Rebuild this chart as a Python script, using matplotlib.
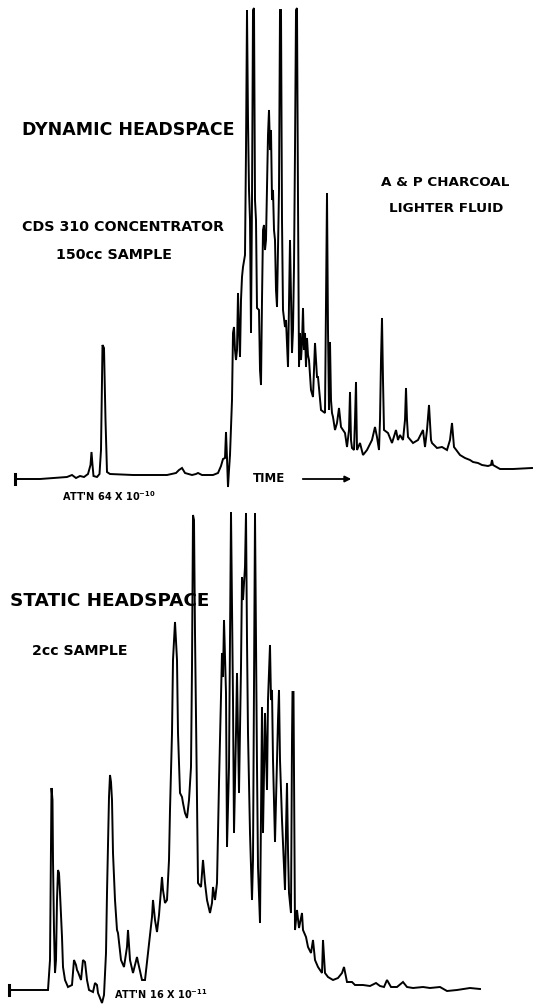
import matplotlib
matplotlib.use("Agg")
import matplotlib.pyplot as plt

# ---------------- data (time in chart units, response in chart units) ----
dyn_time = [15, 40, 67, 72, 76, 80, 84, 88, 90.5, 91.5, 92.5, 93.5, 97, 99.5, 101, 102.5, 104, 105.5,
            107, 110, 133, 167, 176, 179, 182, 185, 192, 196, 198, 202, 213, 218, 221, 223, 225, 226,
            227, 228, 229, 230, 232, 233, 234, 235, 236, 237, 238, 239, 240, 241, 242, 243, 245, 246,
            247, 248, 249, 250, 251, 252, 253, 254, 255, 256, 257, 259, 260, 261, 262, 263, 264, 265,
            266, 267, 268, 269, 270, 271, 272, 273, 274, 275, 276, 277, 278, 279, 280, 281, 282, 283,
            285, 286, 288, 290, 292, 293, 294, 295, 296, 297, 298, 299, 300, 301, 302, 303, 304, 305,
            306, 307, 308, 309, 311, 313, 315, 317, 318, 321, 325, 326, 327, 328, 329, 330, 331, 332,
            333, 335, 337, 339, 341, 345, 347, 349, 350, 351, 352, 354, 355, 356, 357, 360, 363, 367,
            372, 375, 377, 379, 380, 381, 382, 383, 384, 388, 392, 396, 398, 400, 403, 405, 406, 407,
            408, 413, 418, 423, 425, 427, 429, 431, 432, 437, 442, 447, 450, 452, 454, 460, 465, 470,
            473, 478, 482, 488, 491, 492, 493, 500, 513, 532]
dyn_resp = [-1, -1, 1, 3, 0, 2, 1, 4, 13, 26, 13, 2, 1, 4, 28, 133, 130, 58,
            6, 4, 3, 3, 5, 8, 10, 5, 3, 4, 5, 3, 3, 5, 12, 19, 20, 46,
            20, -9, 8, 23, 78, 145, 151, 128, 118, 128, 185, 148, 121, 178, 201, 211, 223, 328,
            468, 358, 288, 258, 145, 278, 468, 470, 278, 258, 170, 168, 108, 93, 178, 248, 253, 228,
            238, 288, 343, 368, 328, 348, 278, 288, 248, 238, 188, 171, 228, 288, 468, 468, 258, 168,
            151, 158, 111, 238, 125, 148, 211, 328, 468, 470, 278, 111, 145, 118, 135, 170, 128, 145,
            111, 140, 123, 118, 88, 81, 135, 101, 101, 68, 65, 178, 285, 148, 68, 136, 78, 65,
            61, 48, 55, 70, 51, 45, 31, 48, 86, 38, 30, 28, 58, 96, 28, 35, 23, 28,
            38, 51, 41, 28, 58, 118, 160, 98, 48, 45, 35, 48, 38, 43, 38, 58, 90, 58,
            41, 35, 38, 48, 31, 48, 73, 38, 35, 30, 31, 28, 38, 55, 31, 23, 20, 18,
            16, 15, 13, 12, 13, 18, 13, 9, 9, 10]

stat_time = [9, 30, 48, 50, 51, 51.5, 52.5, 53, 54, 55, 56, 57, 58, 59, 60, 62, 63, 65, 68, 72, 74,
             76, 77, 78, 81, 83, 85, 87, 89, 93, 95, 97, 98, 102, 104, 106, 107, 109, 110, 111, 112,
             113, 115, 117, 118, 121, 124, 127, 128, 130, 133, 137, 138, 142, 145, 148, 152, 153,
             155, 157, 159, 162, 163, 165, 167, 168, 169, 170, 172, 173, 175, 176, 177, 178, 180,
             182, 183, 185, 187, 189, 191, 192, 193, 194, 195, 197, 198, 201, 203, 205, 207, 210,
             212, 213, 215, 217, 219, 222, 223, 224, 226, 227, 229, 231, 233, 234, 236, 237, 239,
             241, 242, 243, 245, 246, 247, 248, 250, 252, 253, 255, 257, 258, 260, 262, 263, 265,
             267, 268, 270, 271, 272, 273, 275, 276, 277, 278, 279, 280, 282, 283, 285, 286, 287,
             288, 289, 291, 292, 292.5, 293.5, 295, 297, 299, 302, 303, 306, 308, 311, 313, 315,
             318, 322, 323, 325, 328, 333, 338, 342, 344, 347, 352, 355, 363, 370, 376, 380, 384,
             387, 391, 397, 403, 407, 413, 423, 430, 440, 447, 457, 470, 480]
stat_resp = [0, 0, 0, 30, 140, 202, 190, 130, 60, 17, 30, 90, 120, 117, 97, 53, 23, 10, 3, 5, 30,
             25, 20, 18, 10, 30, 28, 10, 0, -2, 7, 5, -3, -13, -5, 37, 97, 193, 215, 208, 190,
             137, 90, 60, 57, 30, 23, 43, 60, 30, 17, 33, 28, 10, 10, 37, 73, 90,
             70, 58, 75, 113, 100, 87, 90, 110, 130, 180, 257, 330, 368, 350, 330, 257, 197,
             193, 187, 177, 172, 190, 223, 323, 475, 470, 357, 190, 107, 103, 130, 107, 90, 77,
             87, 103, 90, 107, 207, 337, 313, 370, 297, 143, 223, 478, 290, 157, 257, 317, 197,
             323, 413, 390, 423, 477, 350, 257, 157, 90, 130, 477, 223, 123, 67, 283, 157, 277,
             200, 290, 345, 290, 300, 230, 148, 190, 230, 270, 300, 230, 170, 147, 100, 160, 207,
             140, 97, 77, 250, 298, 298, 60, 80, 62, 77, 60, 53, 43, 37, 50, 30,
             23, 17, 50, 17, 13, 10, 12, 17, 23, 8, 8, 5, 5, 4, 7, 4, 3,
             10, 3, 3, 8, 3, 2, 3, 2, 3, -1, 0, 2, 1]

# start-of-run pen marks
dyn_mark_time = [15, 15]
dyn_mark_resp = [4, -6]
stat_mark_time = [9, 9]
stat_mark_resp = [5, -5]

W, H = 533, 1006
fig = plt.figure(figsize=(W / 100, H / 100), dpi=100)
fig.patch.set_facecolor("white")

ax_top = fig.add_axes([0, 1 - 500 / H, 1, 500 / H])
ax_bot = fig.add_axes([0, 0, 1, 506 / H])

lw = 1.4
ax_top.plot(dyn_time, dyn_resp, color="black", lw=lw, solid_joinstyle="miter")
ax_top.plot(dyn_mark_time, dyn_mark_resp, color="black", lw=2.2)
ax_top.set_xlim(0, W)
ax_top.set_ylim(-22, 478)
ax_top.axis("off")

ax_bot.plot(stat_time, stat_resp, color="black", lw=lw, solid_joinstyle="miter")
ax_bot.plot(stat_mark_time, stat_mark_resp, color="black", lw=2.2)
ax_bot.set_xlim(0, W)
ax_bot.set_ylim(-16, 490)
ax_bot.axis("off")


def fp(x, y):
    return x / W, 1 - y / H


font = dict(family="DejaVu Sans", weight="bold", color="black")

fig.text(*fp(22, 130), "DYNAMIC HEADSPACE", fontsize=12.5, va="center", ha="left", **font)
fig.text(*fp(22, 227), "CDS 310 CONCENTRATOR", fontsize=10.3, va="center", ha="left", **font)
fig.text(*fp(56, 255), "150cc SAMPLE", fontsize=10.3, va="center", ha="left", **font)
fig.text(*fp(381, 182), "A & P CHARCOAL", fontsize=9.7, va="center", ha="left", **font)
fig.text(*fp(389, 208), "LIGHTER FLUID", fontsize=9.7, va="center", ha="left", **font)
fig.text(*fp(62, 496), r"ATT'N 64 X 10$^{\mathbf{-10}}$", fontsize=7, va="center", ha="left", **font)
fig.text(*fp(253, 479), "TIME", fontsize=8.5, va="center", ha="left", **font)
ax_top.annotate("", xy=fp(354, 479), xytext=fp(300, 479), xycoords="figure fraction",
                textcoords="figure fraction", annotation_clip=False,
                arrowprops=dict(arrowstyle="-|>", lw=1.3, color="black", mutation_scale=9))

fig.text(*fp(10, 601), "STATIC HEADSPACE", fontsize=13.2, va="center", ha="left", **font)
fig.text(*fp(32, 651), "2cc SAMPLE", fontsize=10.2, va="center", ha="left", **font)
fig.text(*fp(114, 994), r"ATT'N 16 X 10$^{\mathbf{-11}}$", fontsize=7, va="center", ha="left", **font)

fig.savefig("out.png", dpi=100, facecolor="white")
